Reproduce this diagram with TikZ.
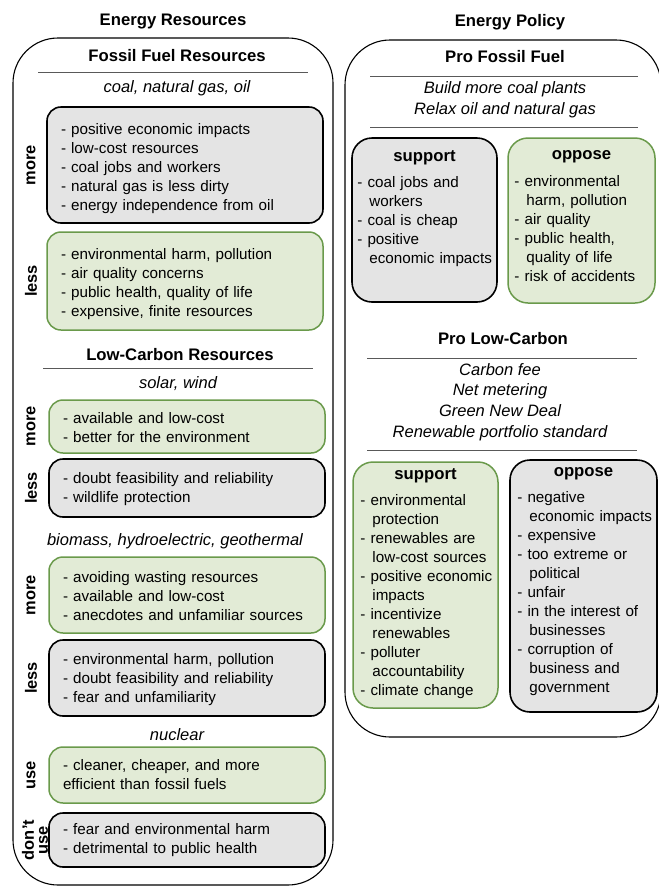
\documentclass[tikz,border=0pt]{standalone}
\usepackage{fontspec}
\setmainfont{Liberation Sans}
\usetikzlibrary{positioning, calc}
\definecolor{boxgray}{HTML}{E4E4E4}
\definecolor{boxgreen}{HTML}{E2EBD6}
\definecolor{greenline}{HTML}{6A9A4B}
\newcommand{\contind}{\hspace*{12pt}}
\newcommand{\toppad}[1][14pt]{\rule{0pt}{#1}}
\tikzset{
  panel/.style={draw, line width=1.1pt, rounded corners=45pt},
  heading/.style={font=\fontsize{16.7}{20}\selectfont\bfseries},
  sources/.style={font=\fontsize{16.5}{20.7}\selectfont\itshape, align=center},
  rule/.style={draw=black!65, line width=0.9pt},
  graybox/.style={draw, fill=boxgray, line width=1.6pt, rounded corners=14pt},
  greenbox/.style={draw=greenline, fill=boxgreen, line width=1.5pt, rounded corners=14pt},
  reslist/.style={minimum width=276pt, inner xsep=14pt, text width=248pt, align=left,
    font=\fontsize{15.2}{19}\selectfont},
  sidelabel/.style={rotate=90, font=\fontsize{16.4}{14}\selectfont\bfseries, align=center},
  polbox/.style={rounded corners=20pt},
  polhead/.style={font=\fontsize{16.7}{20}\selectfont\bfseries},
  pollist/.style={anchor=base west, inner sep=0pt, text width=140pt, align=left,
    font=\fontsize{15.2}{19}\selectfont},
}

\begin{document}
\begin{tikzpicture}[x=1pt, y=1pt]
    \useasboundingbox (0,0) rectangle (659,-887);
    \draw[panel] (13,-38) rectangle (333,-885);
    \draw[panel] (345,-40) rectangle (661,-737);
    \node[heading] (restitle) at (173,-22) {Energy Resources};
    \node[heading] (poltitle) at (510,-22) {Energy Policy};
    \coordinate (labcol) at (31,0);

    % fossil fuel resources
    \node[heading] (ffhead) at (177,-56) {Fossil Fuel Resources};
    \draw[rule] (38,-72) -- (308,-72);
    \node[sources] (ffsrc) at (177,-88) {coal, natural gas, oil};
    \node[graybox, reslist, minimum height=116pt] (ffmore) at (185,-165)
        {\toppad[18pt]- positive economic impacts\\- low-cost resources\\- coal jobs and workers\\- natural gas is less dirty\\- energy independence from oil};
    \node[sidelabel] (ffmorelab) at (ffmore.west -| labcol) {more};
    \node[greenbox, reslist, minimum height=98pt] (ffless) at (185,-281)
        {\toppad[18pt]- environmental harm, pollution\\- air quality concerns\\- public health, quality of life\\- expensive, finite resources};
    \node[sidelabel] (fflesslab) at (ffless.west -| labcol) {less};

    % low-carbon resources
    \node[heading] (lchead) at (180,-355) {Low-Carbon Resources};
    \draw[rule] (43,-368) -- (313,-368);
    \node[sources] (swsrc) at (178,-384) {solar, wind};
    \node[greenbox, reslist, minimum height=53pt] (swmore) at (187,-426.5)
        {\toppad- available and low-cost\\- better for the environment};
    \node[sidelabel] (swmorelab) at (swmore.west -| labcol) {more};
    \node[graybox, reslist, minimum height=58pt] (swless) at (187,-488)
        {\toppad- doubt feasibility and reliability\\- wildlife protection};
    \node[sidelabel] (swlesslab) at (swless.west -| labcol) {less};
    \node[sources] (bhgsrc) at (175,-541) {biomass, hydroelectric, geothermal};
    \node[greenbox, reslist, minimum height=76pt] (bhgmore) at (187,-595)
        {\toppad- avoiding wasting resources\\- available and low-cost\\- anecdotes and unfamiliar sources};
    \node[sidelabel] (bhgmorelab) at (bhgmore.west -| labcol) {more};
    \node[graybox, reslist, minimum height=76pt] (bhgless) at (187,-678)
        {\toppad- environmental harm, pollution\\- doubt feasibility and reliability\\- fear and unfamiliarity};
    \node[sidelabel] (bhglesslab) at (bhgless.west -| labcol) {less};
    \node[sources] (nucsrc) at (177,-735) {nuclear};
    \node[greenbox, reslist, minimum height=56pt] (nucuse) at (187,-775)
        {- cleaner, cheaper, and more\\efficient than fossil fuels};
    \node[sidelabel] (nucuselab) at (nucuse.west -| labcol) {use};
    \node[graybox, reslist, minimum height=54pt] (nucdont) at (187,-840)
        {\toppad[12pt]- fear and environmental harm\\- detrimental to public health};
    \node[sidelabel] (nucdontlab) at ([xshift=4pt]nucdont.west -| labcol) {don’t\\use};

    % pro fossil fuel policy
    \node[heading] (pfhead) at (505,-57) {Pro Fossil Fuel};
    \draw[rule] (370,-76) -- (638,-76);
    \node[sources, font=\fontsize{16.5}{21}\selectfont\itshape] (pfpol) at (505,-99.5)
        {Build more coal plants\\Relax oil and natural gas};
    \draw[rule] (370,-127) -- (638,-127);
    \node[graybox, polbox, minimum width=145pt, minimum height=164pt] (pfsup) at (424.5,-220) {};
    \node[polhead] (pfsuphead) at ([yshift=-21pt]pfsup.north) {support};
    \node[pollist] (pfsuplist) at ([xshift=6pt,yshift=-50pt]pfsup.north west)
        {- coal jobs and\\\contind workers\\- coal is cheap\\- positive\\\contind economic impacts};
    \node[greenbox, polbox, minimum width=147pt, minimum height=165pt] (pfopp) at (581.5,-220.5) {};
    \node[polhead] (pfopphead) at ([yshift=-19pt]pfopp.north) {oppose};
    \node[pollist] (pfopplist) at ([xshift=7pt,yshift=-49pt]pfopp.north west)
        {- environmental\\\contind harm, pollution\\- air quality\\- public health,\\\contind quality of life\\- risk of accidents};

    % pro low-carbon policy
    \node[heading] (plchead) at (503,-339) {Pro Low-Carbon};
    \draw[rule] (367,-358) -- (637,-358);
    \node[sources] (plcpol) at (500,-402)
        {Carbon fee\\Net metering\\Green New Deal\\Renewable portfolio standard};
    \draw[rule] (367,-450) -- (637,-450);
    \node[greenbox, polbox, minimum width=145pt, minimum height=246pt] (plcsup) at (425.5,-585) {};
    \node[polhead] (plcsuphead) at ([yshift=-15pt]plcsup.north) {support};
    \node[pollist] (plcsuplist) at ([xshift=8pt,yshift=-44pt]plcsup.north west)
        {- environmental\\\contind protection\\- renewables are\\\contind low-cost sources\\- positive economic\\\contind impacts\\- incentivize\\\contind renewables\\- polluter\\\contind accountability\\- climate change};
    \node[graybox, polbox, minimum width=147pt, minimum height=252pt] (plcopp) at (583.5,-586) {};
    \node[polhead] (plcopphead) at ([yshift=-15pt]plcopp.north) {oppose};
    \node[pollist] (plcopplist) at ([xshift=8pt,yshift=-43pt]plcopp.north west)
        {- negative\\\contind economic impacts\\- expensive\\- too extreme or\\\contind political\\- unfair\\- in the interest of\\\contind businesses\\- corruption of\\\contind business and\\\contind government};
\end{tikzpicture}
\end{document}
